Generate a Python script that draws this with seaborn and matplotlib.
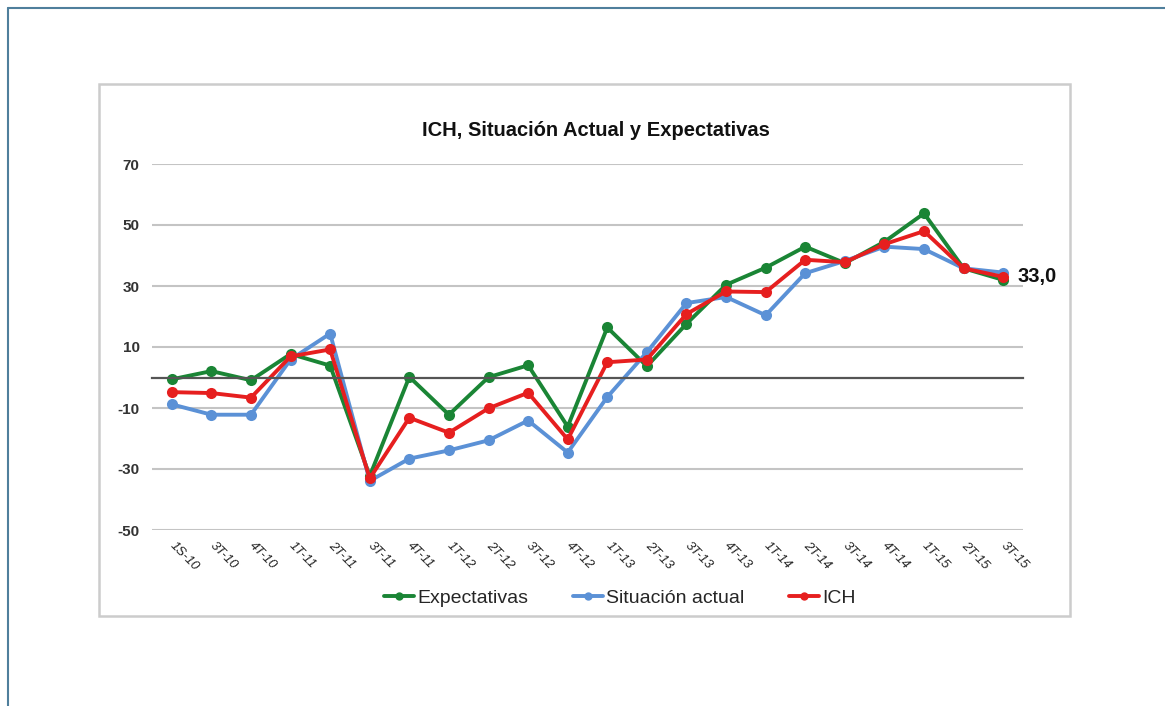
import matplotlib
matplotlib.use("Agg")
import matplotlib.pyplot as plt
import seaborn as sns
import pandas as pd
from matplotlib.patches import Rectangle
from matplotlib.lines import Line2D

periods = ["1S-10", "3T-10", "4T-10", "1T-11", "2T-11", "3T-11", "4T-11", "1T-12",
           "2T-12", "3T-12", "4T-12", "1T-13", "2T-13", "3T-13", "4T-13", "1T-14",
           "2T-14", "3T-14", "4T-14", "1T-15", "2T-15", "3T-15"]
expectativas = [-0.6, 2.1, -0.9, 7.7, 3.9, -32.3, 0.2, -12.2, 0.1, 4.0, -16.1, 16.4,
                3.7, 17.6, 30.4, 36.0, 42.9, 37.5, 44.5, 53.8, 35.8, 32.0]
situacion = [-8.8, -12.2, -12.2, 5.9, 14.4, -33.9, -26.6, -23.9, -20.6, -14.1, -24.6, -6.4,
             8.3, 24.4, 26.4, 20.4, 34.2, 38.2, 42.9, 42.1, 35.8, 34.4]
ich = [-4.8, -5.1, -6.6, 6.9, 9.2, -33.1, -13.2, -18.1, -10.1, -5.0, -20.3, 5.0,
       5.9, 20.8, 28.2, 28.0, 38.6, 37.8, 43.7, 48.0, 35.8, 33.0]
series_names = ["Expectativas", "Situación actual", "ICH"]
yticks = [-50, -30, -10, 10, 30, 50, 70]
title = "ICH, Situación Actual y Expectativas"
last_label = "33,0"

colors = {"Expectativas": "#1a8535", "Situación actual": "#5b91d6", "ICH": "#e61f1f"}

sns.set_theme(style="white")
plt.rcParams["font.family"] = ["Liberation Sans", "DejaVu Sans"]

df = pd.DataFrame({"periodo": periods * 3,
                   "x": list(range(len(periods))) * 3,
                   "valor": expectativas + situacion + ich,
                   "serie": [series_names[0]] * len(periods) + [series_names[1]] * len(periods)
                            + [series_names[2]] * len(periods)})

W, H = 1165, 706
fig = plt.figure(figsize=(W / 100, H / 100), dpi=100)

# outer frame (top/left)
fig.add_artist(Line2D([8 / W, 8 / W], [0, 1 - 8 / H], transform=fig.transFigure,
                      color="#4f7f9c", lw=1.5))
fig.add_artist(Line2D([8 / W, 1], [1 - 8 / H, 1 - 8 / H], transform=fig.transFigure,
                      color="#4f7f9c", lw=1.5))
# inner chart box
fig.add_artist(Rectangle((99 / W, 1 - 616 / H), (1070 - 99) / W, (616 - 84) / H,
                         transform=fig.transFigure, fill=False, edgecolor="#cccccc", lw=1.8))

ax = fig.add_axes([152 / W, 1 - 530 / H, (1023 - 152) / W, (530 - 164) / H])

for name in series_names:
    sub = df[df["serie"] == name]
    sns.lineplot(data=sub, x="x", y="valor", ax=ax, color=colors[name], lw=2.8,
                 marker="o", markersize=8, markeredgewidth=0, label=name, legend=False)

ax.set_xlim(-0.5, len(periods) - 0.5)
ax.set_ylim(-50, 70)
ax.set_yticks(yticks)
ax.set_yticklabels([str(v) for v in yticks], fontsize=11, color="#333333", fontweight="bold")
ax.tick_params(axis="y", length=0, pad=9)
ax.grid(axis="y", color="#c4c4c4", lw=1.5)
ax.set_axisbelow(True)
for s in ["top", "right", "left"]:
    ax.spines[s].set_visible(False)
ax.spines["bottom"].set_position(("data", 0))
ax.spines["bottom"].set_color("#555555")
ax.spines["bottom"].set_linewidth(1.6)
ax.set_xticks(range(len(periods)))
ax.tick_params(axis="x", length=3, width=1, color="#555555", labelbottom=False, direction="out")
ax.set_xlabel("")
ax.set_ylabel("")

sec = ax.secondary_xaxis("bottom")
sec.set_xticks(range(len(periods)))
sec.set_xticklabels(periods, rotation=-45, ha="left", va="center", rotation_mode="anchor",
                    fontsize=9.5, style="italic", color="#222222")
sec.tick_params(axis="x", length=0, pad=10)
sec.spines["bottom"].set_visible(False)

ax.annotate(last_label, xy=(len(periods) - 1, ich[-1]), xytext=(10, 0),
            textcoords="offset points", fontsize=14.5, fontweight="bold", va="center",
            ha="left", color="#111111")

fig.text(596 / W, 1 - 131 / H, title, fontsize=14.5, fontweight="bold", ha="center",
         va="center", color="#111111")

handles = [Line2D([0], [0], color=colors[n], lw=2.8, marker="o", markersize=6,
                  markeredgewidth=0) for n in series_names]
fig.legend(handles, series_names, loc="center", bbox_to_anchor=(620 / W, 1 - 598 / H),
           ncol=3, frameon=False, fontsize=14, handlelength=1.55, handletextpad=0.15,
           columnspacing=2.3)

fig.savefig("out.png", dpi=100)
